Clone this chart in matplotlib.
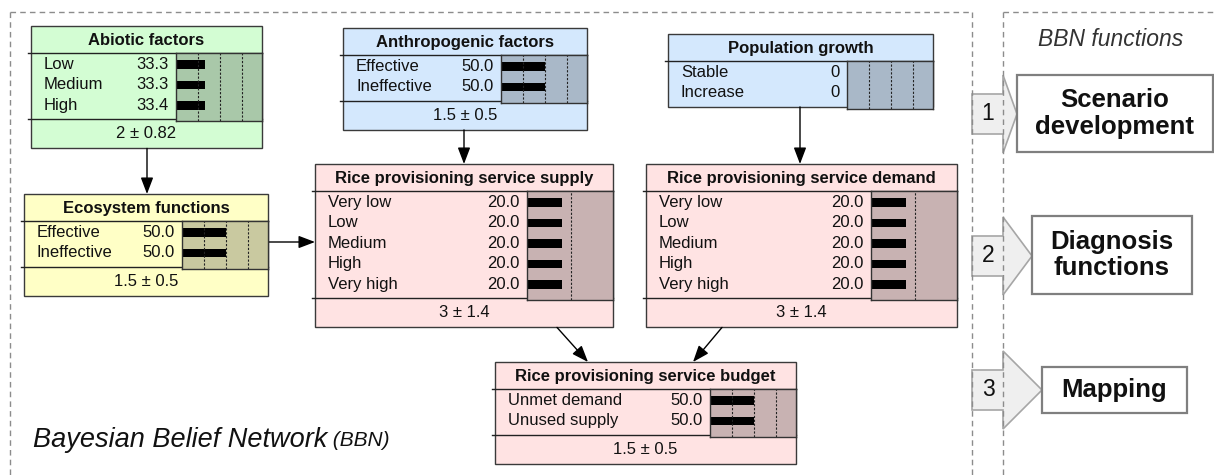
import matplotlib
matplotlib.use("Agg")
import matplotlib.pyplot as plt
from matplotlib.patches import Rectangle, Polygon, FancyArrowPatch

# ---------------- data ----------------
abiotic_states = ["Low", "Medium", "High"]
abiotic_values = [33.3, 33.3, 33.4]
abiotic_summary = "2 ± 0.82"

ecosystem_states = ["Effective", "Ineffective"]
ecosystem_values = [50.0, 50.0]
ecosystem_summary = "1.5 ± 0.5"

anthropogenic_states = ["Effective", "Ineffective"]
anthropogenic_values = [50.0, 50.0]
anthropogenic_summary = "1.5 ± 0.5"

population_states = ["Stable", "Increase"]
population_values = [0, 0]
population_summary = None

supply_states = ["Very low", "Low", "Medium", "High", "Very high"]
supply_values = [20.0, 20.0, 20.0, 20.0, 20.0]
supply_summary = "3 ± 1.4"

demand_states = ["Very low", "Low", "Medium", "High", "Very high"]
demand_values = [20.0, 20.0, 20.0, 20.0, 20.0]
demand_summary = "3 ± 1.4"

budget_states = ["Unmet demand", "Unused supply"]
budget_values = [50.0, 50.0]
budget_summary = "1.5 ± 0.5"

function_steps = ["1", "2", "3"]
function_labels = ["Scenario\ndevelopment", "Diagnosis\nfunctions", "Mapping"]

# ---------------- layout ----------------
W, H = 1214, 475
plt.rcParams['font.family'] = ['Liberation Sans', 'DejaVu Sans']
fig = plt.figure(figsize=(W / 100, H / 100), dpi=100)
ax = fig.add_axes([0, 0, 1, 1])
ax.set_xlim(0, W)
ax.set_ylim(H, 0)
ax.axis('off')

GREEN = ("#d3fdd3", "#a9c8a9")
YELLOW = ("#ffffc6", "#c9c9a0")
BLUE = ("#d4e8fd", "#a9b8c8")
PINK = ("#ffe3e3", "#c8b2b2")

TITLE_H = 27
ROW = 20.5
FOOT_H = 29
PANEL_W = 86
FS = 12

def node(title, states, values, summary, x, y, w, colors, full_pct):
    fill, panel = colors
    n = len(states)
    sh = (n + 0.24) * ROW
    fh = FOOT_H if summary else 0
    total = TITLE_H + sh + fh
    ax.add_patch(Rectangle((x, y), w, total, facecolor=fill, edgecolor="#3a3a3a", lw=1.0, zorder=1))
    ax.plot([x - 3, x + w], [y + TITLE_H, y + TITLE_H], color="#222222", lw=1.0, zorder=2)
    if summary:
        ax.plot([x - 3, x + w], [y + TITLE_H + sh, y + TITLE_H + sh], color="#222222", lw=1.0, zorder=2)
        ax.text(x + w / 2, y + TITLE_H + sh + fh / 2, summary, ha='center', va='center', fontsize=FS, color="#111111")
    ax.text(x + w / 2, y + TITLE_H / 2 + 1, title, ha='center', va='center', fontsize=FS, fontweight='bold', color="#111111")
    px = x + w - PANEL_W
    for i, (s, v) in enumerate(zip(states, values)):
        cy = y + TITLE_H + ROW * (0.56 + i)
        ax.text(x + 13, cy, s, ha='left', va='center', fontsize=FS, color="#111111")
        vs = f"{v:.1f}" if v else "0"
        ax.text(px - 7, cy, vs, ha='right', va='center', fontsize=FS, color="#111111")
    # belief bar panel as inset axes
    pax = fig.add_axes([px / W, 1 - (y + TITLE_H + sh + 2) / H, PANEL_W / W, (sh + 2) / H])
    pax.set_facecolor(panel)
    pax.set_xlim(0, full_pct)
    pax.set_ylim(n - 1 + 0.78, -0.56)
    for g in (25, 50, 75):
        if g < full_pct:
            pax.axvline(g, color="#222222", lw=0.8, ls=(0, (2, 1.5)))
    pax.barh(range(n), values, height=0.42, color="black")
    pax.set_xticks([])
    pax.set_yticks([])
    for sp in pax.spines.values():
        sp.set_color("#333333")
        sp.set_linewidth(1.0)
    return total

def arrow(p0, p1):
    a = FancyArrowPatch(p0, p1, arrowstyle='-|>,head_length=1.0,head_width=0.38',
                        mutation_scale=10, color='black', lw=1.0, shrinkA=0, shrinkB=0, zorder=3)
    ax.add_patch(a)

h_ab = node("Abiotic factors", abiotic_states, abiotic_values, abiotic_summary, 31, 26, 231, GREEN, 97.7)
h_ec = node("Ecosystem functions", ecosystem_states, ecosystem_values, ecosystem_summary, 24, 194, 244, YELLOW, 97.7)
h_an = node("Anthropogenic factors", anthropogenic_states, anthropogenic_values, anthropogenic_summary, 343, 28, 244, BLUE, 97.7)
h_po = node("Population growth", population_states, population_values, population_summary, 668, 34, 265, BLUE, 97.7)
h_su = node("Rice provisioning service supply", supply_states, supply_values, supply_summary, 315, 164, 298, PINK, 48.9)
h_de = node("Rice provisioning service demand", demand_states, demand_values, demand_summary, 646, 164, 311, PINK, 48.9)
h_bu = node("Rice provisioning service budget", budget_states, budget_values, budget_summary, 495, 362, 301, PINK, 97.7)

# network arrows
arrow((147, 26 + h_ab), (147, 194))
arrow((268, 242), (315, 242))
arrow((464, 28 + h_an), (464, 164))
arrow((800, 34 + h_po), (800, 164))
arrow((557, 164 + h_su), (588, 362))
arrow((722, 164 + h_de), (693, 362))

# BBN label
t1 = ax.text(33, 440, "Bayesian Belief Network", ha='left', va='center', fontsize=19.5,
             style='italic', color="#111111")
ax.annotate(" (BBN)", xy=(1, 0.1), xycoords=t1, ha='left', va='bottom', fontsize=15,
            style='italic', color="#111111")

# right panel: block arrows and boxes
arrows_geo = [(114, 1017), (256, 1032), (390, 1042)]
boxes_geo = [(1017, 75, 196, 77), (1032, 216, 160, 78), (1042, 367, 145, 46)]
for step, label, (cy, tip), (bx, by, bw, bh) in zip(function_steps, function_labels, arrows_geo, boxes_geo):
    sx0, sx1 = 972, 1003
    poly = Polygon([(sx0, cy - 20), (sx1, cy - 20), (sx1, cy - 39), (tip, cy), (sx1, cy + 39),
                    (sx1, cy + 20), (sx0, cy + 20)], closed=True, facecolor="#efefef",
                   edgecolor="#a6a6a6", lw=1.2, zorder=1)
    ax.add_patch(poly)
    ax.text(988, cy, step, ha='center', va='center', fontsize=16.5, color="#111111", zorder=4)
    ax.add_patch(Rectangle((bx, by), bw, bh, facecolor="white", edgecolor="#7f7f7f", lw=1.6, zorder=2))
    ax.text(bx + bw / 2, by + bh / 2, label, ha='center', va='center', fontsize=18.5,
            fontweight='bold', color="#111111", linespacing=1.15, zorder=3)

ax.text(1111, 40, "BBN functions", ha='center', va='center', fontsize=16.5, style='italic', color="#333333")

# dashed frames
dash = dict(color="#8c8c8c", lw=1.0, ls=(0, (4, 3)), zorder=5)
ax.plot([10, 10], [12, H], **dash)
ax.plot([10, 972], [12, 12], **dash)
ax.plot([972, 972], [12, H], **dash)
ax.plot([1003, 1003], [12, H], **dash)
ax.plot([1003, W], [12, 12], **dash)

fig.savefig("out.png", dpi=100)
